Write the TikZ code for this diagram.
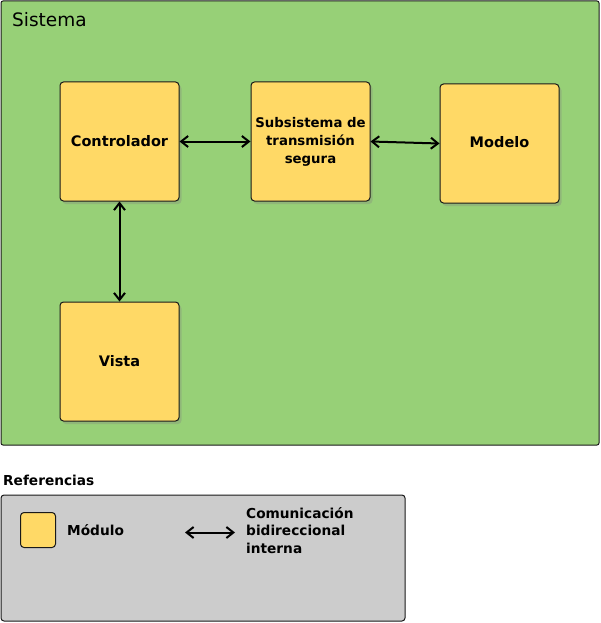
\documentclass[tikz,border=0pt]{standalone}
\usepackage{fontspec}
\setmainfont{DejaVu Sans}
\usetikzlibrary{arrows.meta,shadows}

\definecolor{sysgreen}{HTML}{97D077}
\definecolor{modyellow}{HTML}{FFD966}
\definecolor{refgray}{HTML}{CCCCCC}

\tikzset{
    modulo/.style={draw=black!90, line width=1pt, fill=modyellow, rounded corners=3.5pt,
        minimum width=119pt, minimum height=119pt, inner sep=0pt,
        font=\bfseries\fontsize{14.5}{18}\selectfont,
        drop shadow={shadow xshift=2.5pt, shadow yshift=-3pt, opacity=0.3}},
    flecha/.style={{Straight Barb[length=7pt,width=11pt]}-{Straight Barb[length=7pt,width=11pt]},
        line width=2pt},
}

\begin{document}
\begin{tikzpicture}[x=1pt, y=-1pt]
    \useasboundingbox (0,0) rectangle (600,623);

    % System frame
    \draw[fill=sysgreen, draw=black!90, line width=1pt, rounded corners=2pt] (1,1) rectangle (599,445);
    \node[anchor=base west, inner sep=0pt, font=\fontsize{18.5}{22}\selectfont] (sistema) at (12,27) {Sistema};

    % Modules
    \node[modulo] (ctrl) at (119.5,141.5) {Controlador};
    \node[modulo, align=center, font=\bfseries\fontsize{13.3}{18}\selectfont] (sub) at (310.5,141.5)
        {Subsistema de\\transmisión\\segura};
    \node[modulo] (mod) at (499.5,143.5) {\raisebox{4pt}{Modelo}};
    \node[modulo] (vista) at (119.5,361.5) {\raisebox{-3pt}{Vista}};

    % Internal communication
    \draw[flecha] (ctrl.east) -- (sub.west);
    \draw[flecha] (sub.east) -- (mod.west);
    \draw[flecha] (ctrl.south) -- (vista.north);

    % Legend
    \node[anchor=base west, inner sep=0pt, font=\bfseries\fontsize{13.7}{17}\selectfont] (ref) at (3,485) {Referencias};
    \draw[fill=refgray, draw=black!90, line width=1pt, rounded corners=3pt] (1,495) rectangle (405,621);
    \node[draw=black!90, line width=1pt, fill=modyellow, rounded corners=3.5pt, minimum size=35pt, inner sep=0pt] (leyMod) at (38,530) {};
    \node[anchor=base west, inner sep=0pt, font=\bfseries\fontsize{13.7}{17}\selectfont] (txtMod) at (67,535) {Módulo};
    \coordinate (flechaA) at (185,532.5);
    \coordinate (flechaB) at (235,532.5);
    \draw[flecha] (flechaA) -- (flechaB);
    \node[anchor=north west, inner sep=0pt, align=left, font=\bfseries\fontsize{13.7}{17.5}\selectfont] (txtCom) at (246,507)
        {Comunicación\\bidireccional\\interna};
\end{tikzpicture}
\end{document}
